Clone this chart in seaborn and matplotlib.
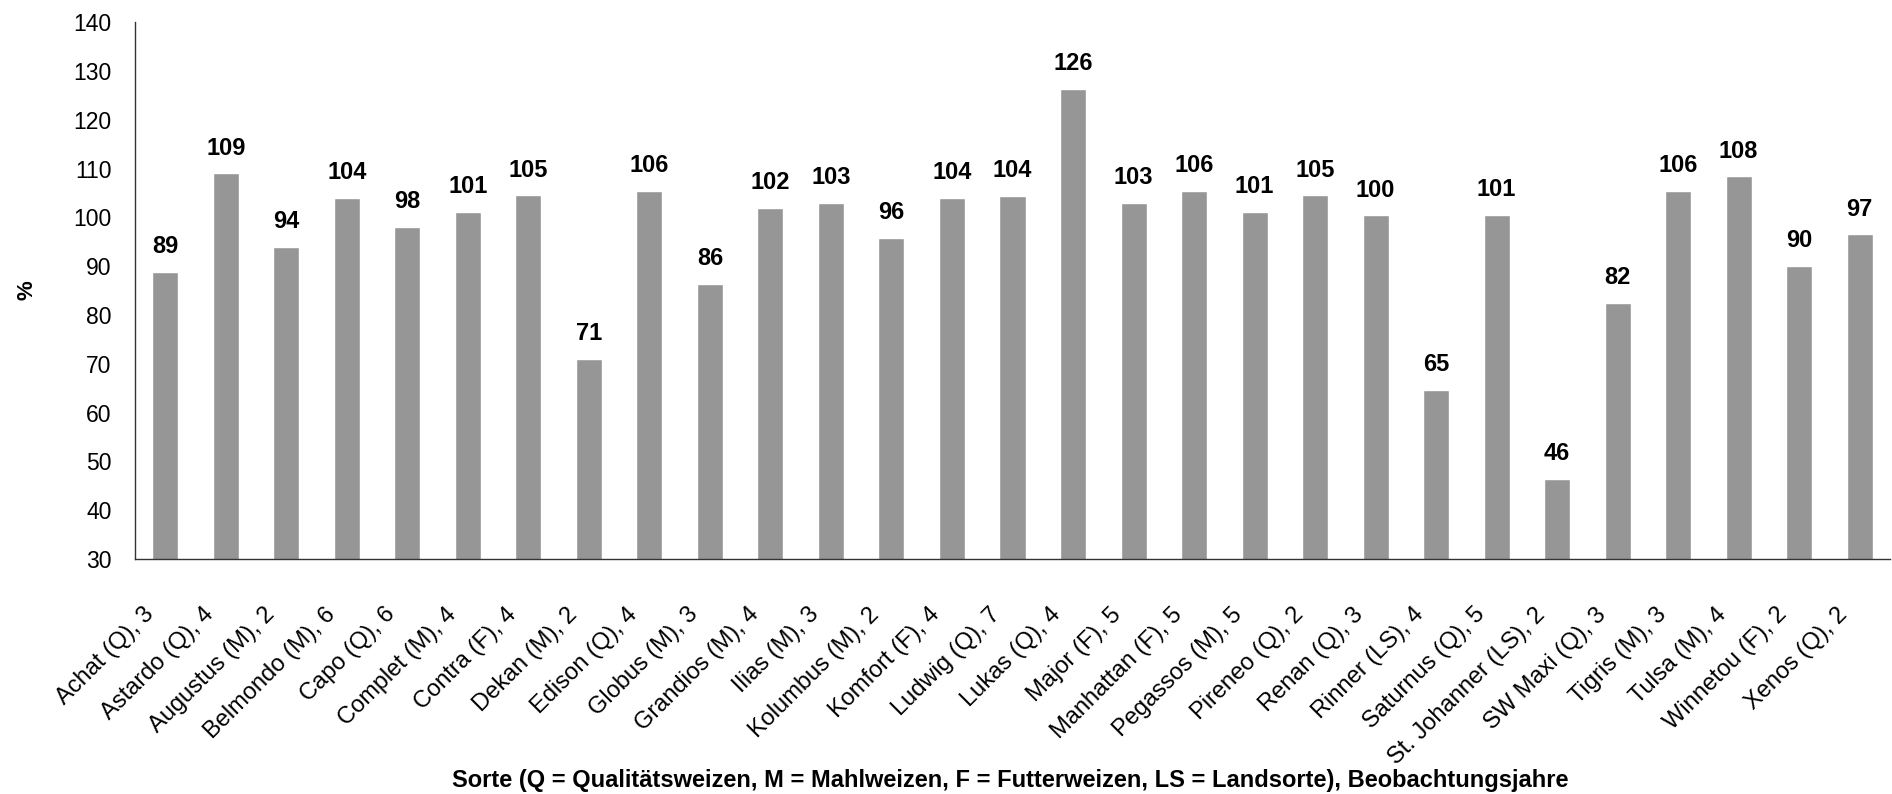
import numpy as np
import pandas as pd
import matplotlib
matplotlib.use("Agg")
import matplotlib.pyplot as plt
import matplotlib.transforms as mtransforms
import seaborn as sns

sorten = ["Achat (Q), 3", "Astardo (Q), 4", "Augustus (M), 2", "Belmondo (M), 6", "Capo (Q), 6",
          "Complet (M), 4", "Contra (F), 4", "Dekan (M), 2", "Edison (Q), 4", "Globus (M), 3",
          "Grandios (M), 4", "Ilias (M), 3", "Kolumbus (M), 2", "Komfort (F), 4", "Ludwig (Q), 7",
          "Lukas (Q), 4", "Major (F), 5", "Manhattan (F), 5", "Pegassos (M), 5", "Pireneo (Q), 2",
          "Renan (Q), 3", "Rinner (LS), 4", "Saturnus (Q), 5", "St. Johanner (LS), 2", "SW Maxi (Q), 3",
          "Tigris (M), 3", "Tulsa (M), 4", "Winnetou (F), 2", "Xenos (Q), 2"]
werte = [88.9, 109.0, 93.9, 104.0, 98.0, 101.2, 104.5, 71.0, 105.5, 86.4,
         102.0, 103.0, 95.8, 104.0, 104.4, 126.4, 103.0, 105.5, 101.2, 104.5,
         100.4, 64.7, 100.5, 46.4, 82.4, 105.5, 108.4, 90.0, 96.5]
beschriftung = [89, 109, 94, 104, 98, 101, 105, 71, 106, 86,
                102, 103, 96, 104, 104, 126, 103, 106, 101, 105,
                100, 65, 101, 46, 82, 106, 108, 90, 97]

df = pd.DataFrame({"Sorte": sorten, "Wert": werte})

sns.set_style("white")
plt.rcParams["font.family"] = ["Liberation Sans", "DejaVu Sans"]
plt.rcParams["text.color"] = "black"
plt.rcParams["xtick.color"] = "black"
plt.rcParams["ytick.color"] = "black"

fig = plt.figure(figsize=(18.92, 7.94), dpi=100)
ax = fig.add_axes([0.0714, 0.296, 0.9275, 0.676])

sns.barplot(data=df, x="Sorte", y="Wert", color="#969696", width=0.43,
            saturation=1, ax=ax)

ax.set_ylim(30, 140)
ax.set_xlim(-0.5, len(sorten) - 0.5)
ax.set_yticks(np.arange(30, 141, 10))

# value labels above bars
for i, (v, lab) in enumerate(zip(werte, beschriftung)):
    ax.annotate(str(lab), (i, v), xytext=(0, 10), textcoords="offset points",
                ha="center", va="bottom", fontsize=17, fontweight="bold")

# Excel-style ticks between categories
ax.set_xticks(np.arange(len(sorten)))
ax.set_xticklabels(sorten, rotation=45, ha="right", rotation_mode="anchor", fontsize=17)
ax.tick_params(axis="x", which="major", length=0, pad=32)
shift = mtransforms.ScaledTranslation(-0.23, 0, fig.dpi_scale_trans)
for lbl in ax.get_xticklabels():
    lbl.set_transform(lbl.get_transform() + shift)
ax.set_xticks(np.arange(-0.5, len(sorten)), minor=True)
ax.tick_params(axis="x", which="minor", length=7, width=1, color="#333333", direction="out")
ax.tick_params(axis="y", length=7, width=1, color="#333333", direction="out",
               labelsize=16.5, pad=10)

for s in ["top", "right"]:
    ax.spines[s].set_visible(False)
for s in ["left", "bottom"]:
    ax.spines[s].set_color("#333333")
    ax.spines[s].set_linewidth(1)

ax.set_ylabel("")
ax.set_xlabel("")
fig.text(27 / 1892, 0.634, "%", rotation=90, ha="center", va="center",
         fontsize=16, fontweight="bold")
fig.text(1010 / 1892, 0.0176,
         "Sorte (Q = Qualitätsweizen, M = Mahlweizen, F = Futterweizen, LS = Landsorte), Beobachtungsjahre",
         ha="center", va="center", fontsize=17, fontweight="bold",
         family=["Liberation Sans Narrow", "Liberation Sans", "DejaVu Sans"])

fig.savefig("out.png", dpi=100)
